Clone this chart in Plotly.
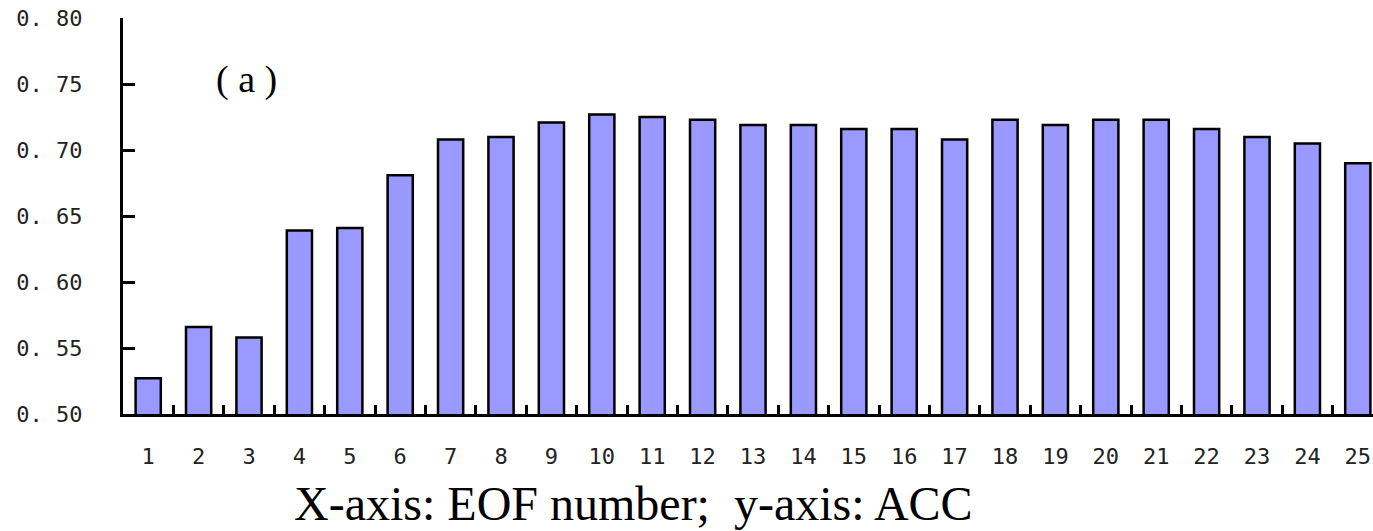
import plotly.graph_objects as go

eof_numbers = [str(i) for i in range(1, 26)]
acc_values = [0.527, 0.566, 0.558, 0.639, 0.641, 0.681, 0.708, 0.710, 0.721, 0.727,
              0.725, 0.723, 0.719, 0.719, 0.716, 0.716, 0.708, 0.723, 0.719, 0.723,
              0.723, 0.716, 0.710, 0.705, 0.690]
y_tick_vals = [0.50, 0.55, 0.60, 0.65, 0.70, 0.75, 0.80]
y_tick_text = ["0. 50", "0. 55", "0. 60", "0. 65", "0. 70", "0. 75", "0. 80"]
panel_label = "(\u00a0a\u00a0)"
caption = "X-axis: EOF number;\u00a0 y-axis: ACC"

W, H = 1373, 531
PL, PT, PW, PH = 123, 18, 1250, 396   # plot area in picture pixels

def px(xp):
    return (xp - PL) / PW

def py(yp):
    return (PT + PH - yp) / PH

tick_font = dict(family="DejaVu Sans Mono", size=22, color="#222222")

fig = go.Figure()
fig.add_trace(go.Bar(
    x=eof_numbers, y=acc_values, width=0.5,
    marker=dict(color="#9999FF", line=dict(color="black", width=2.5)),
))

fig.update_layout(
    width=W, height=H,
    margin=dict(l=PL, r=W - PL - PW, t=PT, b=H - PT - PH),
    plot_bgcolor="white", paper_bgcolor="white",
    showlegend=False,
)
fig.update_xaxes(
    type="category", range=[-0.5, -0.5 + PW / 50.4],
    showline=True, linecolor="black", linewidth=3,
    ticks="inside", tickson="boundaries", ticklen=9, tickwidth=3, tickcolor="black",
    tickfont=tick_font, ticklabelstandoff=21,
    showgrid=False, zeroline=False,
)
fig.update_yaxes(
    range=[0.50, 0.8001],
    tickvals=y_tick_vals, ticktext=y_tick_text,
    showline=True, linecolor="black", linewidth=3,
    ticks="inside", ticklen=12, tickwidth=3, tickcolor="black",
    tickfont=tick_font, ticklabelstandoff=33, ticklabeloverflow="allow",
    showgrid=False, zeroline=False,
)
fig.add_annotation(
    text=panel_label, xref="paper", yref="paper",
    x=px(246), y=py(79),
    xanchor="center", yanchor="middle", showarrow=False,
    font=dict(family="Liberation Serif", size=38, color="black"),
)
fig.add_annotation(
    text=caption, xref="paper", yref="paper",
    x=px(633), y=py(503),
    xanchor="center", yanchor="middle", showarrow=False,
    font=dict(family="Liberation Serif", size=48, color="black"),
)
fig.write_html(
    "out.html",
    config={"displayModeBar": False},
    post_script="document.body.style.margin='0';document.body.style.overflow='hidden';",
)
